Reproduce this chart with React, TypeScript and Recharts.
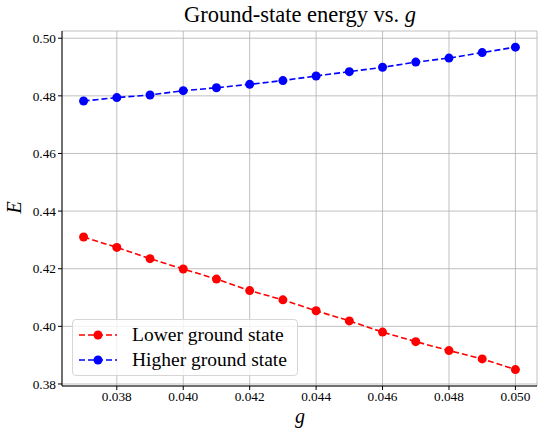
import React from "react";
import {
  LineChart,
  Line,
  XAxis,
  YAxis,
  CartesianGrid,
} from "recharts";

// coupling values g
const gValues = [
  0.037, 0.038, 0.039, 0.04, 0.041, 0.042, 0.043, 0.044, 0.045, 0.046, 0.047,
  0.048, 0.049, 0.05,
];

// energies
const lowerE = [
  0.431, 0.4274, 0.4235, 0.4199, 0.4164, 0.4124, 0.4092, 0.4054, 0.4019,
  0.398, 0.3947, 0.3916, 0.3887, 0.385,
];
const higherE = [
  0.4782, 0.4794, 0.4803, 0.4818, 0.4828, 0.484, 0.4853, 0.4869, 0.4884,
  0.4899, 0.4917, 0.4931, 0.495, 0.4969,
];

const xTicks = [0.038, 0.04, 0.042, 0.044, 0.046, 0.048, 0.05];
const yTicks = [0.38, 0.4, 0.42, 0.44, 0.46, 0.48, 0.5];

const data = gValues.map((g, i) => ({ g, lower: lowerE[i], higher: higherE[i] }));

const FONT = "'Liberation Serif', 'DejaVu Serif', serif";

const legendItems = [
  { name: "Lower ground state", color: "#ff0000" },
  { name: "Higher ground state", color: "#0000ff" },
];

const LegendBox = () => (
  <div
    style={{
      position: "absolute",
      left: 72,
      top: 319,
      width: 226,
      height: 57,
      border: "1px solid #d6d6d6",
      borderRadius: 4,
      background: "rgba(255,255,255,0.8)",
      boxSizing: "border-box",
      paddingTop: 2,
      fontFamily: FONT,
      fontSize: 19.5,
      color: "#000",
    }}
  >
    {legendItems.map((it) => (
      <div
        key={it.name}
        style={{ display: "flex", alignItems: "center", height: 25.5 }}
      >
        <svg width={59} height={14} style={{ flex: "none" }}>
          <line
            x1={6}
            x2={44}
            y1={7}
            y2={7}
            stroke={it.color}
            strokeWidth={1.6}
            strokeDasharray="6 3"
          />
          <circle cx={25} cy={7} r={4.5} fill={it.color} />
        </svg>
        <span style={{ whiteSpace: "nowrap" }}>{it.name}</span>
      </div>
    ))}
  </div>
);

const App = () => {
  return (
    <div
      style={{
        position: "absolute",
        left: 0,
        top: 0,
        width: 538,
        height: 430,
        background: "#fff",
      }}
    >
      <LineChart
        width={538}
        height={430}
        data={data}
        margin={{ top: 31, right: 1, bottom: 0, left: 0 }}
      >
        <CartesianGrid stroke="#b0b0b0" strokeWidth={0.8} />
        <XAxis
          dataKey="g"
          type="number"
          domain={[0.03635, 0.05065]}
          ticks={xTicks}
          allowDataOverflow
          tickFormatter={(v: number) => v.toFixed(3)}
          height={44}
          tickSize={4}
          tickLine={{ stroke: "#000" }}
          axisLine={{ stroke: "#000" }}
          tick={{ fill: "#000", fontSize: 13.3, fontFamily: FONT }}
        />
        <XAxis
          xAxisId="top"
          dataKey="g"
          type="number"
          orientation="top"
          domain={[0.03635, 0.05065]}
          allowDataOverflow
          height={0}
          tick={false}
          tickLine={false}
          axisLine={{ stroke: "#000" }}
        />
        <YAxis
          type="number"
          domain={[0.3793, 0.5025]}
          ticks={yTicks}
          allowDataOverflow
          tickFormatter={(v: number) => v.toFixed(2)}
          width={62}
          tickSize={4}
          tickLine={{ stroke: "#000" }}
          axisLine={{ stroke: "#000" }}
          tick={{ fill: "#000", fontSize: 13.3, fontFamily: FONT }}
        />
        <YAxis
          yAxisId="right"
          orientation="right"
          domain={[0.3793, 0.5025]}
          width={0}
          tick={false}
          tickLine={false}
          axisLine={{ stroke: "#000" }}
        />
        <Line
          dataKey="lower"
          name="Lower ground state"
          stroke="#ff0000"
          strokeWidth={1.6}
          strokeDasharray="6 3"
          dot={{ r: 4.5, fill: "#ff0000", stroke: "none" }}
          activeDot={false}
          isAnimationActive={false}
        />
        <Line
          dataKey="higher"
          name="Higher ground state"
          stroke="#0000ff"
          strokeWidth={1.6}
          strokeDasharray="6 3"
          dot={{ r: 4.5, fill: "#0000ff", stroke: "none" }}
          activeDot={false}
          isAnimationActive={false}
        />
      </LineChart>
      <div
        style={{
          position: "absolute",
          left: 62,
          width: 476,
          top: 2,
          textAlign: "center",
          fontFamily: FONT,
          fontSize: 22.5,
        }}
      >
        Ground-state energy vs. <i>g</i>
      </div>
      <div
        style={{
          position: "absolute",
          left: 8,
          top: 196,
          fontFamily: FONT,
          fontSize: 20,
          fontStyle: "italic",
          transform: "rotate(-90deg)",
        }}
      >
        E
      </div>
      <div
        style={{
          position: "absolute",
          left: 62,
          width: 476,
          top: 405,
          textAlign: "center",
          fontFamily: FONT,
          fontSize: 20,
          fontStyle: "italic",
        }}
      >
        g
      </div>
      <LegendBox />
    </div>
  );
};

export default App;
